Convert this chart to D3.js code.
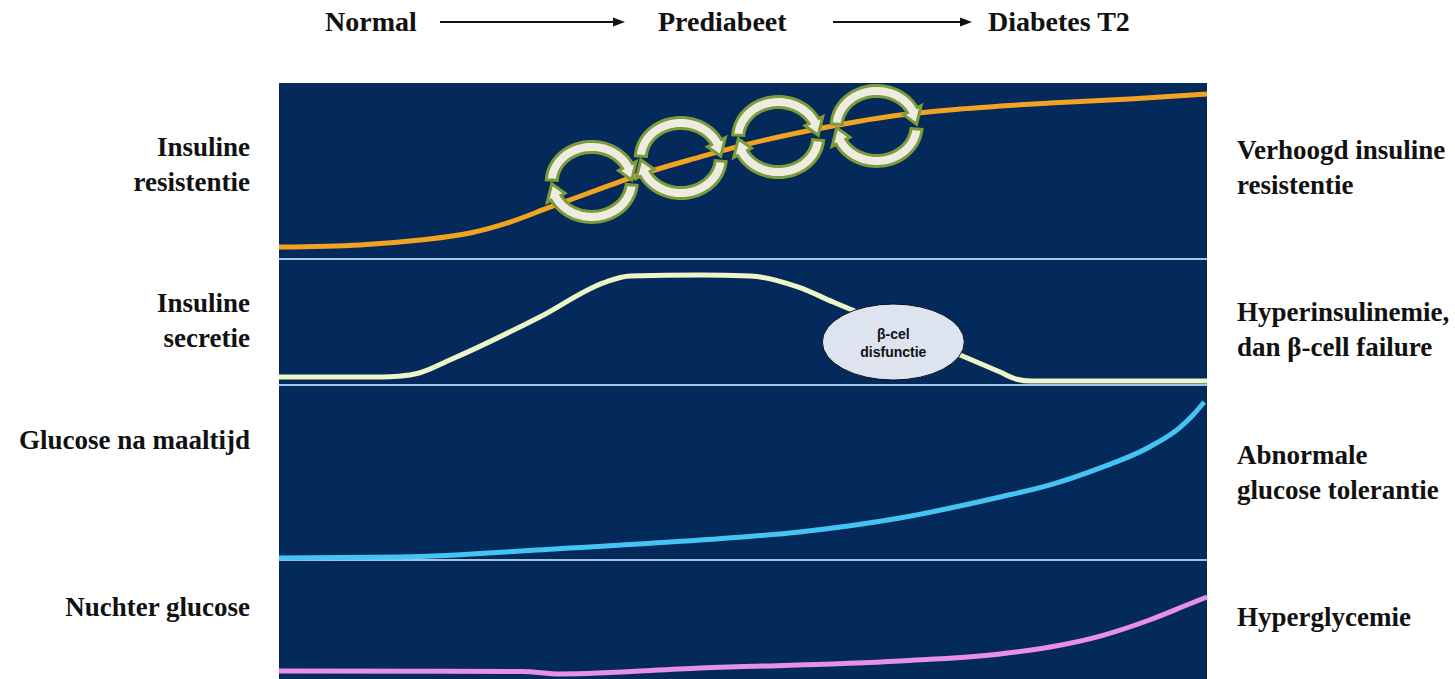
<!DOCTYPE html>
<html>
<head>
<meta charset="utf-8">
<script src="https://cdn.jsdelivr.net/npm/d3@7"></script>
<style>
  html, body { margin: 0; padding: 0; background: #ffffff; }
  svg { display: block; }
  .lbl { font-family: "Liberation Serif", "Times New Roman", serif; font-weight: bold; fill: #111; }
</style>
</head>
<body>
<svg id="chart" width="1455" height="679"></svg>
<script>
// Progression stages shown across the top
const stages = ["Normal", "Prediabeet", "Diabetes T2"];

// Row labels (left: measure, right: outcome)
const leftLabels = [["Insuline", "resistentie"], ["Insuline", "secretie"], ["Glucose na maaltijd"], ["Nuchter glucose"]];
const rightLabels = [["Verhoogd insuline", "resistentie"], ["Hyperinsulinemie,", "dan β-cell failure"], ["Abnormale", "glucose tolerantie"], ["Hyperglycemie"]];

// Disease progression (0 = normal, 100 = type 2 diabetes) and relative level within each band (0-100)
const resistanceX = [0, 8.7, 15.2, 20.6, 24.9, 29.2, 34.6, 37.8, 45.4, 48.9, 59.1, 66.9, 73.4, 83.1, 91.7, 100];
const resistanceY = [6.8, 8.0, 10.8, 14.8, 21.0, 29.5, 39.8, 46.0, 58.0, 63.1, 75.0, 81.8, 85.2, 88.6, 90.9, 93.8];

const secretionX = [0, 11.0, 12.9, 15.1, 18.4, 28.1, 35.2, 37.8, 45.4, 50.8, 55.9, 59.7, 66.9, 73.4, 77.7, 79.5, 81.0, 100];
const secretionY = [6.3, 6.3, 6.9, 9.5, 19.8, 54.0, 81.7, 86.5, 87.3, 86.5, 77.8, 65.9, 43.7, 23.8, 10.3, 4.6, 3.2, 3.2];

const mealGlucoseX = [0, 13, 31.4, 45.4, 56.1, 66.9, 77.7, 83.1, 88.5, 93.8, 97.0, 98.5, 99.7];
const mealGlucoseY = [1.1, 1.7, 6.9, 11.4, 16.0, 24.0, 36.0, 42.9, 52.6, 64.6, 75.4, 82.9, 90.3];

const fastingGlucoseX = [0, 26.2, 30.3, 45.4, 66.9, 77.7, 83.1, 88.5, 93.8, 98.1, 100];
const fastingGlucoseY = [6.7, 6.3, 4.2, 9.2, 15.1, 21.0, 26.9, 36.1, 49.6, 63.0, 68.9];

// Vicious-cycle markers placed along the resistance curve
const cycleX = [33.7, 43.3, 53.8, 64.4];
const cycleY = [43.8, 57.4, 69.3, 75.6];

// β-cell dysfunction callout on the secretion curve
const calloutX = 66.2, calloutY = 34.1;
const calloutText = ["β-cel", "disfunctie"];

const svg = d3.select("#chart");

const panel = { left: 279, right: 1207, top: 83, bottom: 679 };
const bandEdges = [83, 259, 385, 560, 679];

const x = d3.scaleLinear().domain([0, 100]).range([panel.left, panel.right]);
const bandY = bandEdges.slice(0, 4).map((t, i) =>
  d3.scaleLinear().domain([0, 100]).range([bandEdges[i + 1], t]));

// Panel background
svg.append("rect")
  .attr("x", panel.left).attr("y", panel.top)
  .attr("width", panel.right - panel.left).attr("height", panel.bottom - panel.top)
  .attr("fill", "#032a5b");

// Band separators
bandEdges.slice(1, 4).forEach(e => {
  svg.append("line")
    .attr("x1", panel.left).attr("x2", panel.right)
    .attr("y1", e).attr("y2", e)
    .attr("stroke", "#a9c3e3").attr("stroke-width", 2);
});

const series = [
  { xs: resistanceX, ys: resistanceY, band: 0, color: "#f3a322" },
  { xs: secretionX, ys: secretionY, band: 1, color: "#eef6c8" },
  { xs: mealGlucoseX, ys: mealGlucoseY, band: 2, color: "#45c3f2" },
  { xs: fastingGlucoseX, ys: fastingGlucoseY, band: 3, color: "#e98ee9" }
];

series.forEach(s => {
  const pts = s.xs.map((v, i) => [v, s.ys[i]]);
  const line = d3.line()
    .x(d => x(d[0]))
    .y(d => bandY[s.band](d[1]))
    .curve(d3.curveMonotoneX);
  svg.append("path")
    .attr("d", line(pts))
    .attr("fill", "none")
    .attr("stroke", s.color)
    .attr("stroke-width", 5)
    .attr("stroke-linecap", "butt");
});

// Circular double arrows
function arcArrow(cx, cy, rx, ry, a0, a1, tip, w, barb) {
  const rad = a => a * Math.PI / 180;
  const pt = (a, d) => [cx + (rx + d) * Math.cos(rad(a)), cy + (ry + d) * Math.sin(rad(a))];
  const p = d3.path();
  const steps = 40;
  let s = pt(a0, w);
  p.moveTo(s[0], s[1]);
  for (let i = 1; i <= steps; i++) {
    const a = a0 + (a1 - a0) * i / steps;
    const q = pt(a, w); p.lineTo(q[0], q[1]);
  }
  let q = pt(a1, w + barb); p.lineTo(q[0], q[1]);
  q = pt(tip, 0); p.lineTo(q[0], q[1]);
  q = pt(a1, -w - barb); p.lineTo(q[0], q[1]);
  for (let i = steps; i >= 0; i--) {
    const a = a0 + (a1 - a0) * i / steps;
    const r = pt(a, -w); p.lineTo(r[0], r[1]);
  }
  p.closePath();
  return p.toString();
}

cycleX.forEach((cxv, i) => {
  const cx = x(cxv), cy = bandY[0](cycleY[i]);
  const g = svg.append("g");
  [[183, 333, 357], [5, 153, 177]].forEach(([a0, a1, tip]) => {
    g.append("path")
      .attr("d", arcArrow(cx, cy, 40, 35, a0, a1, tip, 5.5, 4.5))
      .attr("fill", "#eeece0")
      .attr("stroke", "#7d9b3b")
      .attr("stroke-width", 3)
      .attr("stroke-linejoin", "miter");
  });
});

// Callout ellipse
const ccx = x(calloutX), ccy = bandY[1](calloutY);
svg.append("ellipse")
  .attr("cx", ccx).attr("cy", ccy)
  .attr("rx", 71).attr("ry", 38)
  .attr("fill", "#dde3ef").attr("stroke", "#111").attr("stroke-width", 1);
svg.append("text")
  .attr("x", ccx).attr("y", ccy - 3)
  .attr("text-anchor", "middle")
  .attr("font-family", "Liberation Sans, Arial, sans-serif")
  .attr("font-weight", "bold").attr("font-size", 14).attr("fill", "#111")
  .selectAll("tspan").data(calloutText).join("tspan")
  .attr("x", ccx).attr("dy", (d, i) => i === 0 ? 0 : 18)
  .text(d => d);

// Header stages with arrows
const stageX = [325, 658, 988];
const headerY = 31;
stages.forEach((s, i) => {
  svg.append("text").attr("class", "lbl")
    .attr("x", stageX[i]).attr("y", headerY)
    .attr("font-size", 28).text(s);
});
const arrows = [[440, 625], [833, 972]];
arrows.forEach(([a, b]) => {
  svg.append("line").attr("x1", a).attr("x2", b - 10).attr("y1", 22).attr("y2", 22)
    .attr("stroke", "#111").attr("stroke-width", 2.2);
  svg.append("path").attr("d", `M${b},22 L${b - 12},17.5 L${b - 12},26.5 Z`).attr("fill", "#111");
});

// Row labels
const leftY = [147, 303, 440, 607];
const rightY = [150, 312, 455, 617];
const lineGap = 35;
leftLabels.forEach((lines, i) => {
  const y0 = leftY[i] + 9;
  svg.append("text").attr("class", "lbl")
    .attr("text-anchor", "end").attr("font-size", 27)
    .selectAll("tspan").data(lines).join("tspan")
    .attr("x", 250).attr("y", (d, j) => y0 + j * lineGap).text(d => d);
});
rightLabels.forEach((lines, i) => {
  const y0 = rightY[i] + 9;
  svg.append("text").attr("class", "lbl")
    .attr("text-anchor", "start").attr("font-size", 27)
    .selectAll("tspan").data(lines).join("tspan")
    .attr("x", 1237).attr("y", (d, j) => y0 + j * lineGap).text(d => d);
});
</script>
</body>
</html>
